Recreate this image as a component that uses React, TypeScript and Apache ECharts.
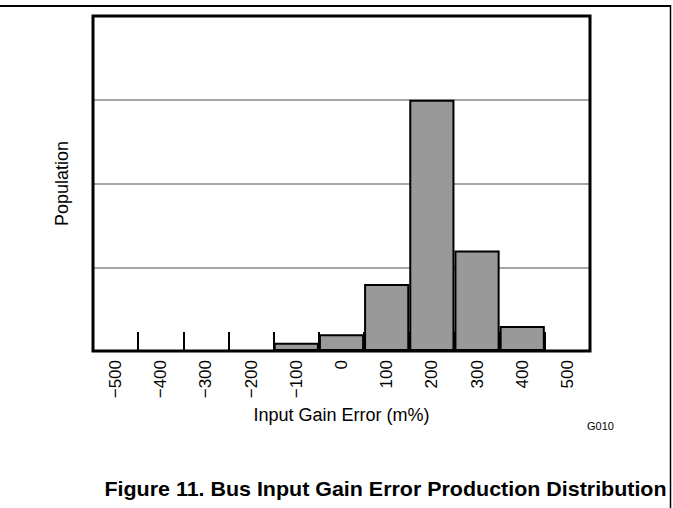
import React, { useEffect, useRef } from "react";
import * as echarts from "echarts";

const categories = ["−500", "−400", "−300", "−200", "−100", "0", "100", "200", "300", "400", "500"];
const population = [0, 0, 0, 0, 0.1, 0.2, 0.8, 3.0, 1.2, 0.3, 0];
const yMin = 0;
const yMax = 4;
const yStep = 1;
const xTitle = "Input Gain Error (m%)";
const yTitle = "Population";
const caption = "Figure 11. Bus Input Gain Error Production Distribution";
const code = "G010";

const FONT = "'Liberation Sans', Arial, Helvetica, sans-serif";

export default function App() {
  const ref = useRef<HTMLDivElement>(null);
  useEffect(() => {
    if (!ref.current) return;
    const chart = echarts.init(ref.current, undefined, { renderer: "svg" });
    chart.setOption({
      animation: false,
      backgroundColor: "#ffffff",
      textStyle: { fontFamily: FONT, color: "#000" },
      grid: {
        left: 93,
        right: 83,
        top: 16,
        bottom: 157,
        show: true,
        borderColor: "#000",
        borderWidth: 3,
        backgroundColor: "transparent",
        z: 10,
      },
      xAxis: {
        type: "category",
        data: categories,
        boundaryGap: true,
        axisLine: { show: false },
        axisTick: {
          show: true,
          inside: true,
          length: 19,
          lineStyle: { color: "#000", width: 2 },
        },
        axisLabel: {
          rotate: 90,
          margin: 9,
          fontSize: 17,
          color: "#000",
          fontFamily: FONT,
          interval: 0,
        },
        name: xTitle,
        nameLocation: "middle",
        nameGap: 54,
        nameTextStyle: { fontSize: 18, color: "#000", fontFamily: FONT },
        z: 1,
      },
      yAxis: {
        type: "value",
        min: yMin,
        max: yMax,
        interval: yStep,
        axisLine: { show: false },
        axisTick: { show: false },
        axisLabel: { show: false },
        splitLine: { show: true, lineStyle: { color: "#888888", width: 1.5 } },
        name: yTitle,
        nameLocation: "middle",
        nameRotate: 90,
        nameGap: 22,
        nameTextStyle: { fontSize: 18, color: "#000", fontFamily: FONT },
      },
      series: [
        {
          type: "bar",
          data: population,
          barCategoryGap: "0%",
          itemStyle: { color: "#999999", borderColor: "#000", borderWidth: 2 },
          z: 3,
        },
      ],
      graphic: [
        {
          type: "line",
          shape: { x1: 0, y1: 6, x2: 671, y2: 6 },
          style: { stroke: "#000", lineWidth: 2 },
          silent: true,
        },
        {
          type: "line",
          shape: { x1: 670.5, y1: 5, x2: 670.5, y2: 508 },
          style: { stroke: "#000", lineWidth: 1.5 },
          silent: true,
        },
        {
          type: "text",
          x: 600.5,
          y: 426,
          scaleX: 1.1,
          style: {
            text: code,
            fontSize: 10,
            fontFamily: FONT,
            fill: "#000",
            textAlign: "center",
            textVerticalAlign: "middle",
          },
        },
        {
          type: "text",
          x: 385.5,
          y: 489,
          scaleX: 1.1,
          style: {
            text: caption,
            fontSize: 19.5,
            fontWeight: "bold",
            fontFamily: FONT,
            fill: "#000",
            textAlign: "center",
            textVerticalAlign: "middle",
          },
        },
      ],
    });
    return () => chart.dispose();
  }, []);
  return (
    <div
      ref={ref}
      style={{ position: "fixed", left: 0, top: 0, width: 673, height: 508, background: "#fff" }}
    />
  );
}
